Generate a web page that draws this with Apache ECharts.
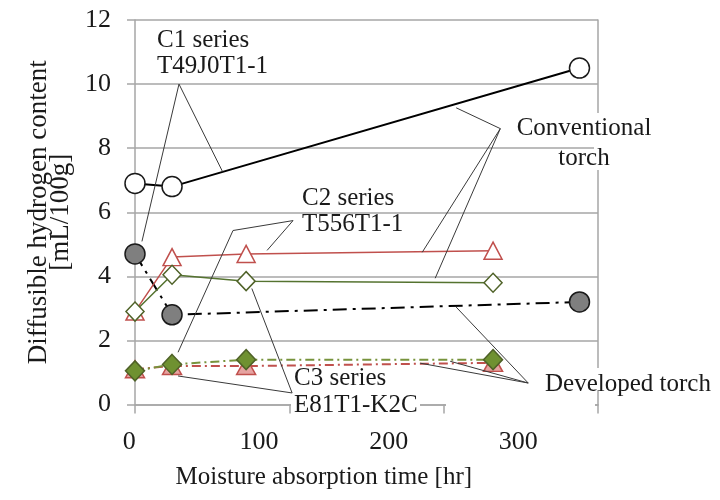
<!DOCTYPE html>
<html>
<head>
<meta charset="utf-8">
<script src="https://cdn.jsdelivr.net/npm/echarts/dist/echarts.min.js"></script>
<style>
  html, body { margin: 0; padding: 0; background: #fff; }
  #chart { width: 720px; height: 500px; }
</style>
</head>
<body>
<div id="chart"></div>
<script>
// Moisture absorption time [hr] for each sampling series
const hoursC1 = [0, 24, 288];
const hoursC23 = [0, 24, 72, 232];

// Diffusible hydrogen content [mL/100g]
const c1Conventional = [6.9, 6.8, 10.5];
const c1Developed = [4.7, 2.8, 3.2];
const c2Conventional = [2.9, 4.6, 4.7, 4.8];
const c2Developed = [1.1, 1.2, 1.2, 1.3];
const c3Conventional = [2.9, 4.05, 3.85, 3.8];
const c3Developed = [1.05, 1.25, 1.4, 1.4];

// Axis ticks and titles
const xTickValues = [0, 100, 200, 300];
const yTickValues = [0, 2, 4, 6, 8, 10, 12];
const xTitle = 'Moisture absorption time [hr]';
const yTitle = 'Diffusible hydrogen content\n[mL/100g]';

// Callout texts
const calloutC1 = ['C1 series', 'T49J0T1-1'];
const calloutC2 = ['C2 series', 'T556T1-1'];
const calloutC3 = ['C3 series', 'E81T1-K2C'];
const calloutConventional = ['Conventional', 'torch'];
const calloutDeveloped = ['Developed torch'];

const FONT = '"Liberation Serif", "Times New Roman", serif';
const TEXT = '#1a1a1a';
const AXIS_GRAY = '#a6a6a6';
const RED = '#c0504d';
const GREEN_DARK = '#4f6228';
const GREEN = '#77933c';

const xMin = xTickValues[0];
const xMax = xTickValues[xTickValues.length - 1];
const xStep = xTickValues[1] - xTickValues[0];
const yMin = yTickValues[0];
const yMax = yTickValues[yTickValues.length - 1];
const yStep = yTickValues[1] - yTickValues[0];

const pairs = (xs, ys) => xs.map((x, i) => [x, ys[i]]);

function lineSeries(name, xs, ys, o) {
  return {
    name, type: 'line', xAxisIndex: 0, yAxisIndex: 0,
    data: pairs(xs, ys),
    symbol: o.symbol, symbolSize: o.size, showAllSymbol: true,
    itemStyle: { color: o.fill, borderColor: o.edge, borderWidth: 1.5, opacity: 1 },
    lineStyle: { color: o.line, width: o.width, type: o.dash || 'solid' },
    z: o.z, silent: true, animation: false,
    emphasis: { disabled: true }
  };
}

const chart = echarts.init(document.getElementById('chart'), null, { renderer: 'canvas' });

const gridLine = { color: AXIS_GRAY, width: 1.5 };
const labelFont = { fontFamily: FONT, fontSize: 26, color: TEXT };

chart.setOption({
  animation: false,
  backgroundColor: '#fff',
  grid: [
    { left: 135, right: 122, top: 20, bottom: 95.5, outerBoundsMode: 'none' },
    // label track for the time axis
    { left: 129.3, right: 201.7, top: 20, bottom: 95.5, outerBoundsMode: 'none' }
  ],
  xAxis: [
    {
      gridIndex: 0, type: 'value', min: xMin, max: xMax, interval: xStep,
      axisLine: { show: true, onZero: false, lineStyle: gridLine },
      axisTick: { show: true, inside: false, length: 9, lineStyle: gridLine },
      axisLabel: { show: false },
      splitLine: { show: false }
    },
    {
      gridIndex: 1, type: 'value', min: xMin, max: xMax, interval: xStep,
      axisLine: { show: false }, axisTick: { show: false }, splitLine: { show: false },
      axisLabel: Object.assign({ show: true, margin: 25 }, labelFont),
      name: xTitle, nameLocation: 'middle', nameGap: 60,
      nameTextStyle: { fontFamily: FONT, fontSize: 25, color: TEXT }
    }
  ],
  yAxis: [
    {
      gridIndex: 0, type: 'value', min: yMin, max: yMax, interval: yStep,
      axisLine: { show: true, lineStyle: gridLine },
      axisTick: { show: true, inside: false, length: 8, lineStyle: gridLine },
      axisLabel: Object.assign({ show: true, margin: 24 }, labelFont),
      splitLine: { show: true, lineStyle: gridLine },
      name: yTitle, nameLocation: 'middle', nameRotate: 90, nameGap: 58,
      nameTextStyle: { fontFamily: FONT, fontSize: 27, lineHeight: 22, color: TEXT }
    },
    {
      gridIndex: 0, type: 'value', position: 'right', min: yMin, max: yMax, interval: yStep,
      axisLine: { show: true, lineStyle: gridLine },
      axisTick: { show: false }, axisLabel: { show: false }, splitLine: { show: false }
    },
    { gridIndex: 1, type: 'value', min: yMin, max: yMax, show: false }
  ],
  series: [
    lineSeries('C1 conventional', hoursC1, c1Conventional,
      { symbol: 'circle', size: 20, fill: '#ffffff', edge: '#1a1a1a', line: '#000000', width: 2, z: 2 }),
    lineSeries('C1 developed', hoursC1, c1Developed,
      { symbol: 'circle', size: 20, fill: '#7f7f7f', edge: '#1a1a1a', line: '#000000', width: 2, dash: [14, 6, 3, 6], z: 3 }),
    lineSeries('C2 conventional', hoursC23, c2Conventional,
      { symbol: 'triangle', size: [18, 17], fill: '#ffffff', edge: RED, line: RED, width: 1.5, z: 4 }),
    lineSeries('C3 conventional', hoursC23, c3Conventional,
      { symbol: 'diamond', size: [18, 19], fill: '#ffffff', edge: GREEN_DARK, line: '#557330', width: 1.5, z: 5 }),
    lineSeries('C2 developed', hoursC23, c2Developed,
      { symbol: 'triangle', size: [19, 17], fill: '#e6a3a1', edge: RED, line: RED, width: 2, dash: [9, 4, 2, 4], z: 6 }),
    lineSeries('C3 developed', hoursC23, c3Developed,
      { symbol: 'diamond', size: [19, 20], fill: '#6f9131', edge: GREEN_DARK, line: GREEN, width: 2, dash: [9, 4, 2, 4], z: 7 })
  ]
});

// Callout leader lines, given in data units (hr, mL/100g)
const leaders = [
  [[28.5, 10.0], [56.7, 7.27]],
  [[28.5, 10.0], [4.5, 5.09]],
  [[102.4, 5.74], [85.6, 4.81]],
  [[102.4, 5.74], [63.5, 5.43], [27.9, 1.63]],
  [[101.8, 0.36], [75.7, 3.62]],
  [[101.8, 0.36], [27.9, 0.89]],
  [[236.7, 8.61], [208.1, 9.26]],
  [[236.7, 8.61], [186.1, 4.75]],
  [[236.7, 8.61], [194.5, 3.94]],
  [[254.8, 0.67], [208.1, 3.04]],
  [[254.8, 0.67], [184.8, 1.29]],
  [[254.8, 0.67], [204.2, 1.35]]
];

// Callout text placement (pixel x, line middle y, alignment)
const calloutLayout = [
  { lines: calloutC1, x: 157, y: [40, 66.6], align: 'left' },
  { lines: calloutC2, x: 302, y: [198.3, 224.9], align: 'left' },
  { lines: calloutConventional, x: 584, y: [128.3, 158.3], align: 'center' },
  { lines: calloutDeveloped, x: 545, y: [384.3], align: 'left' },
  { lines: calloutC3, x: 294, y: [378.3, 405.6], align: 'left' }
];

// White patches where callout text sits over the frame
const knockouts = [
  { x: 594, y: 113, width: 7, height: 57 },
  { x: 594, y: 368, width: 7, height: 22 },
  { x: 291, y: 401, width: 129, height: 7 },
  { x: 446, y: 401, width: 149, height: 7 }
];

const elements = [];
knockouts.forEach(r => elements.push({
  type: 'rect', shape: r, style: { fill: '#ffffff' }, z: 10, silent: true
}));
leaders.forEach(pts => elements.push({
  type: 'polyline',
  shape: { points: pts.map(p => chart.convertToPixel({ gridIndex: 0 }, p)) },
  style: { stroke: '#3a3a3a', lineWidth: 1, fill: 'none' },
  z: 20, silent: true
}));
calloutLayout.forEach(c => c.lines.forEach((line, i) => elements.push({
  type: 'text', x: c.x, y: c.y[i], silent: true, z: 30,
  style: {
    text: line, font: '25px ' + FONT, fill: TEXT,
    textAlign: c.align, textVerticalAlign: 'middle'
  }
})));

chart.setOption({ graphic: { elements } });
</script>
</body>
</html>
